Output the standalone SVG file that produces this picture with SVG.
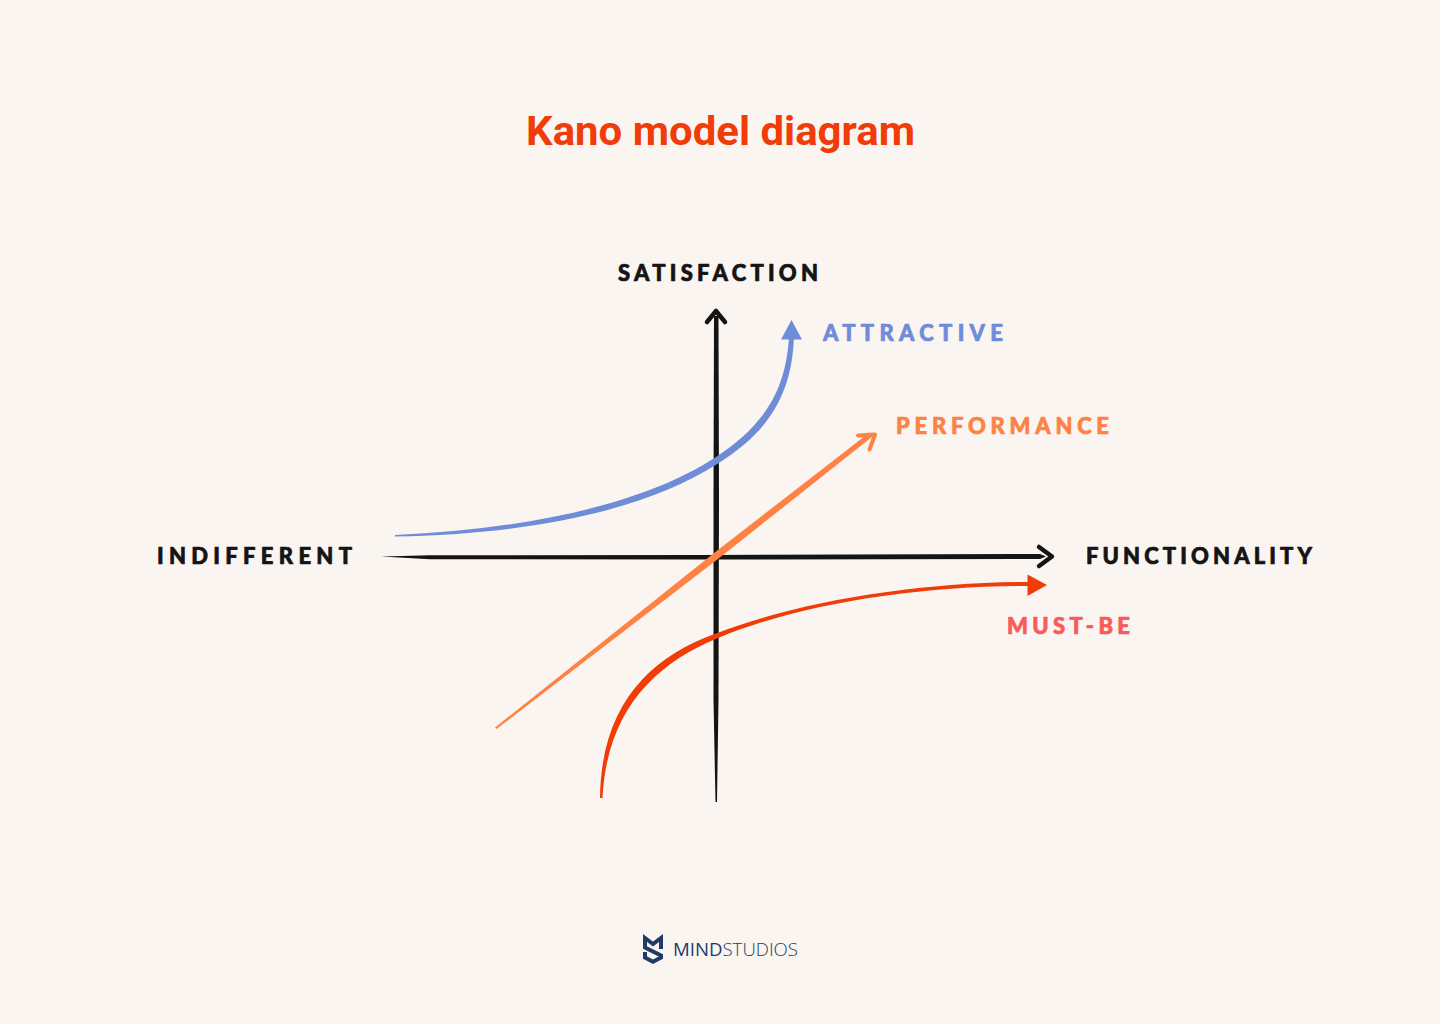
<svg xmlns="http://www.w3.org/2000/svg" width="1440" height="1024" viewBox="0 0 1440 1024">
<style>
.hand{font-family:"Lato","Liberation Sans",sans-serif;font-weight:900;font-size:22px;stroke-width:.7px;stroke-linejoin:round}
.k{fill:#141414}
</style>
<rect width="1440" height="1024" fill="#FAF5F1"/>
<text id="title" x="720.500" y="145" text-anchor="middle" font-family="Roboto,'Liberation Sans',sans-serif" font-weight="700" font-size="41" fill="#F03C08" textLength="389" lengthAdjust="spacingAndGlyphs">Kano model diagram</text>
<g id="connectors" fill="none" stroke-linecap="round">
<g id="axis-x">
<path class="k" stroke="none" d="M381 556.500L430 555.300L700 555L1040 554L1046 556.500L1040 559L700 559.500L430 559.200Z"/>
<path d="M1039 547L1052 556.500L1039 566" stroke="#141414" stroke-width="4.500" stroke-linejoin="round"/>
</g>
<g id="axis-y">
<path class="k" stroke="none" d="M714 316L718.500 316L719 500L718.500 700L717 802L715.500 802L713.500 700L713.500 500Z"/>
<path d="M707 322L716 311L725 322" stroke="#141414" stroke-width="4.500" stroke-linejoin="round"/>
</g>
<g id="curve-attractive">
<path fill="#6F8CD8" stroke="none" d="M395 535C520 529.500 640 506.500 716 457C760 427.500 786 395 789 336L794 336C792 398 766 433 718 463.500C640 513.500 520 534.500 395 536.500Z"/>
<path fill="#6F8CD8" stroke="none" d="M791.500 320L802 339.500L781 339.500Z"/>
</g>
<g id="curve-performance">
<path fill="#FF8244" stroke="none" d="M495 727.500L716 551.500L869.500 432.500L872.500 436.500L718 559L496.500 729Z"/>
<path d="M858 435.500L875 434.500L869.500 449.500" stroke="#FF8244" stroke-width="4" stroke-linejoin="round"/>
</g>
<g id="curve-must-be">
<path fill="#F03C08" stroke="none" d="M600 798C601 705 650 657 716 633.500C800 601 920 582 1030 582L1030 586C920 585.500 800 603.500 717 638.500C655 664 607 710 602.500 798Z"/>
<path fill="#F03C08" stroke="none" d="M1027.500 574.500L1047 585L1027.500 596Z"/>
</g>
</g>
<g id="label-satisfaction"><text class="hand" x="618" y="281" fill="#141414" stroke="#141414" textLength="200">SATISFACTION</text></g>
<g id="label-indifferent"><text class="hand" x="157" y="564" fill="#141414" stroke="#141414" textLength="195">INDIFFERENT</text></g>
<g id="label-functionality"><text class="hand" x="1086" y="564" fill="#141414" stroke="#141414" textLength="226">FUNCTIONALITY</text></g>
<g id="label-attractive"><text class="hand" x="823" y="341" fill="#6F8CD8" stroke="#6F8CD8" textLength="180">ATTRACTIVE</text></g>
<g id="label-performance"><text class="hand" x="896" y="434" fill="#FF8244" stroke="#FF8244" textLength="213">PERFORMANCE</text></g>
<g id="label-must-be"><text class="hand" x="1007" y="634" fill="#FA5A5A" stroke="#FA5A5A" textLength="123">MUST-BE</text></g>
<g id="logo">
<path fill="none" stroke="#1F3B66" stroke-width="4" stroke-linejoin="miter" d="M661 949L661 938L653 944L645 938L645 947.500L661 955.500L661 957.500L653 961.700L645 957.500L645 952"/>
<text x="673" y="955.500" font-family="'Open Sans','Liberation Sans',sans-serif" font-size="18" fill="#1F3B66" textLength="125" lengthAdjust="spacingAndGlyphs"><tspan font-weight="500">MIND</tspan><tspan font-weight="300">STUDIOS</tspan></text>
</g>
</svg>
